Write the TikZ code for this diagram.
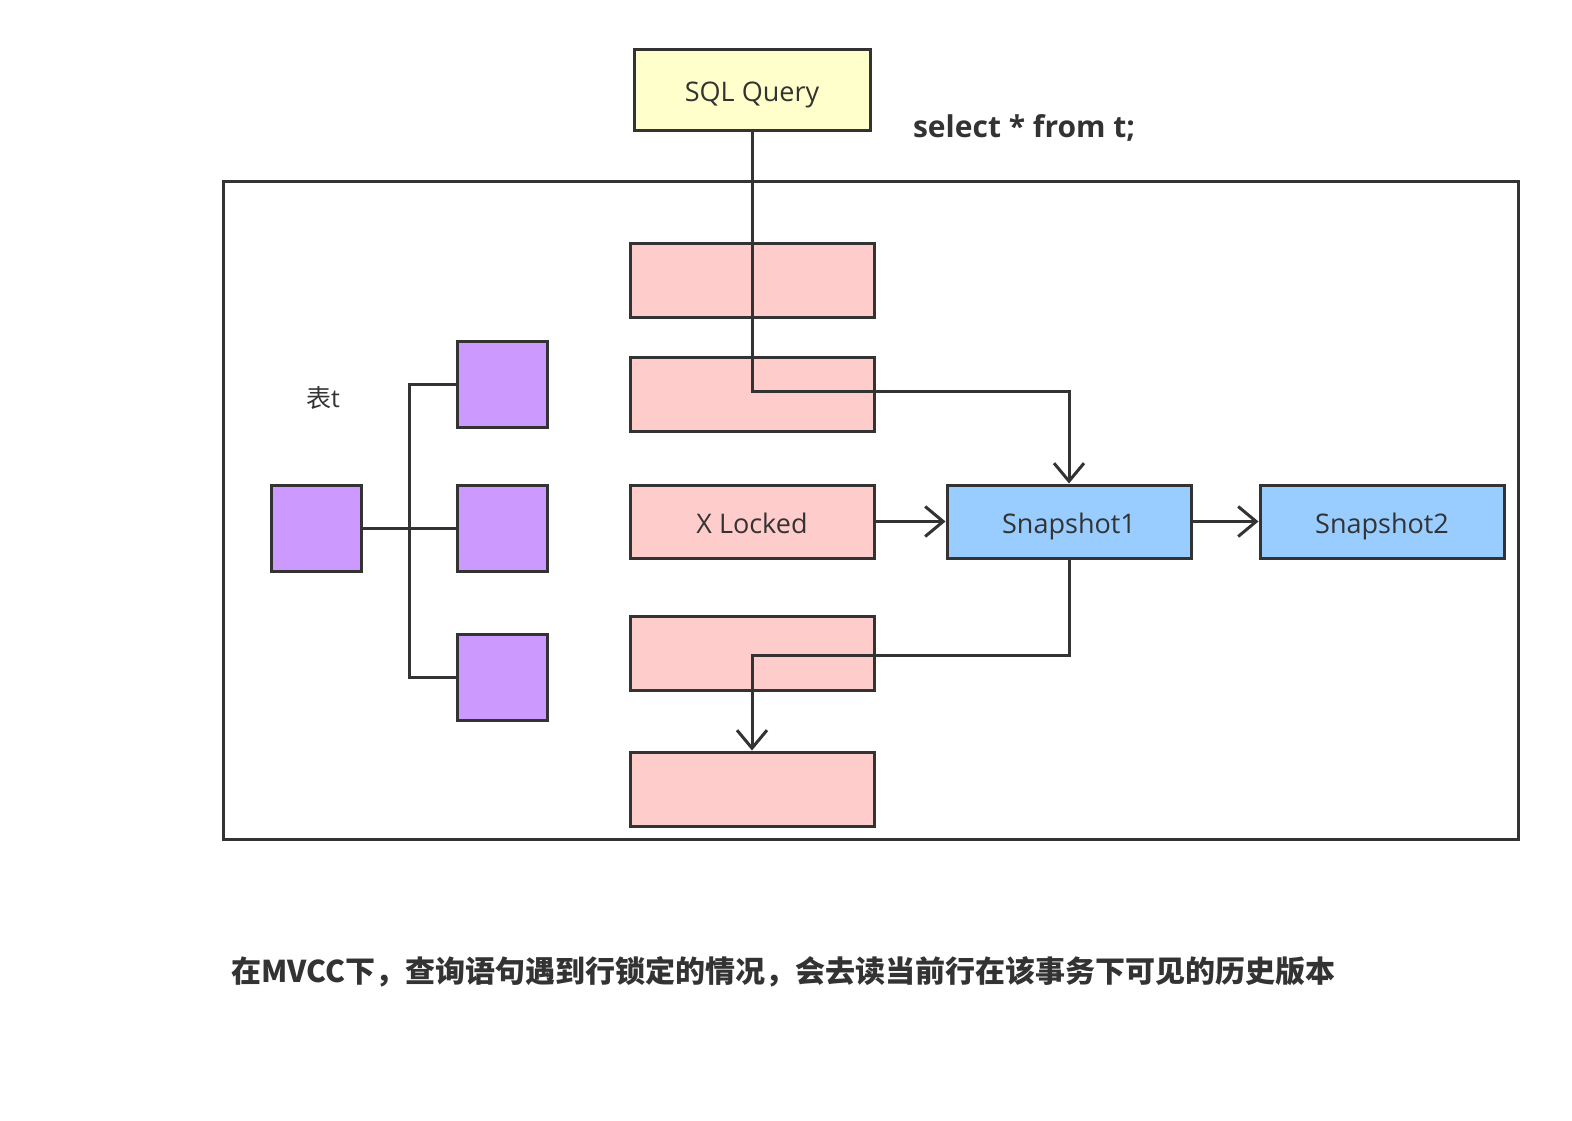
\documentclass[tikz,border=0pt]{standalone}
\usepackage{fontspec}
\setmainfont{Open Sans}
\newfontfamily\cjk{Noto Sans CJK SC}
\usetikzlibrary{arrows.meta}
\definecolor{ink}{HTML}{333333}
\definecolor{sqlfill}{HTML}{FFFFCC}
\definecolor{rowfill}{HTML}{FFCCCC}
\definecolor{snapfill}{HTML}{99CCFF}
\definecolor{treefill}{HTML}{CC99FF}
\begin{document}
\begin{tikzpicture}[x=0.5pt,y=-0.5pt,
  box/.style={draw=ink,line width=1.5pt,inner sep=0pt,text=ink,text height=11.5pt,text depth=0pt,font=\fontsize{13.5}{16}\selectfont},
  conn/.style={draw=ink,line width=1.5pt},
  arr/.style={conn,-{Straight Barb[length=9pt,width=15pt,line width=1.5pt]}}]
\useasboundingbox (0,0) rectangle (1572,1120);
% outer frame
\draw[conn] (223,181) rectangle (1518,839);
% nodes
\node[box,fill=sqlfill,minimum width=118pt,minimum height=40.5pt] (sql) at (752,89.5) {SQL Query};
\node[anchor=west,text=ink,font=\bfseries\fontsize{15}{18}\selectfont] (sel) at (906,128) {select * from t;};
\node[box,fill=rowfill,minimum width=122pt,minimum height=37pt] (r1) at (752,280) {};
\node[box,fill=rowfill,minimum width=122pt,minimum height=37pt] (r2) at (752,394) {};
\node[box,fill=rowfill,minimum width=122pt,minimum height=36.5pt] (r3) at (752,521.5) {X Locked};
\node[box,fill=rowfill,minimum width=122pt,minimum height=37pt] (r4) at (752,653) {};
\node[box,fill=rowfill,minimum width=122pt,minimum height=37pt] (r5) at (752,789) {};
\node[box,fill=snapfill,minimum width=122pt,minimum height=36.5pt] (s1) at (1069,521.5) {Snapshot1};
\node[box,fill=snapfill,minimum width=122pt,minimum height=36.5pt] (s2) at (1382,521.5) {Snapshot2};
\node[box,fill=treefill,minimum width=45pt,minimum height=43pt] (t0) at (316,528) {};
\node[box,fill=treefill,minimum width=45pt,minimum height=43pt] (t1) at (502,384) {};
\node[box,fill=treefill,minimum width=45pt,minimum height=43pt] (t2) at (502,528) {};
\node[box,fill=treefill,minimum width=45pt,minimum height=43pt] (t3) at (502,677) {};
\node[text=ink,font=\fontsize{12.5}{15}\selectfont] (lbl) at (323,398) {{\cjk 表}t};
\node[anchor=west,text=ink,font=\cjk\bfseries\fontsize{15}{18}\selectfont] (cap) at (224,972) {在MVCC下，查询语句遇到行锁定的情况，会去读当前行在该事务下可见的历史版本};
% tree connectors
\draw[conn] (t0.east) -- (t2.west);
\draw[conn] (t1.west) -- (409,384) -- (409,677) -- (t3.west);
% arrows
\draw[arr] (sql.south) -- (752,391) -- (1069,391) -- (s1.north);
\draw[arr] (r3.east) -- (s1.west);
\draw[arr] (s1.east) -- (s2.west);
\draw[arr] (s1.south) -- (1069,655) -- (752,655) -- (r5.north);
\end{tikzpicture}
\end{document}
